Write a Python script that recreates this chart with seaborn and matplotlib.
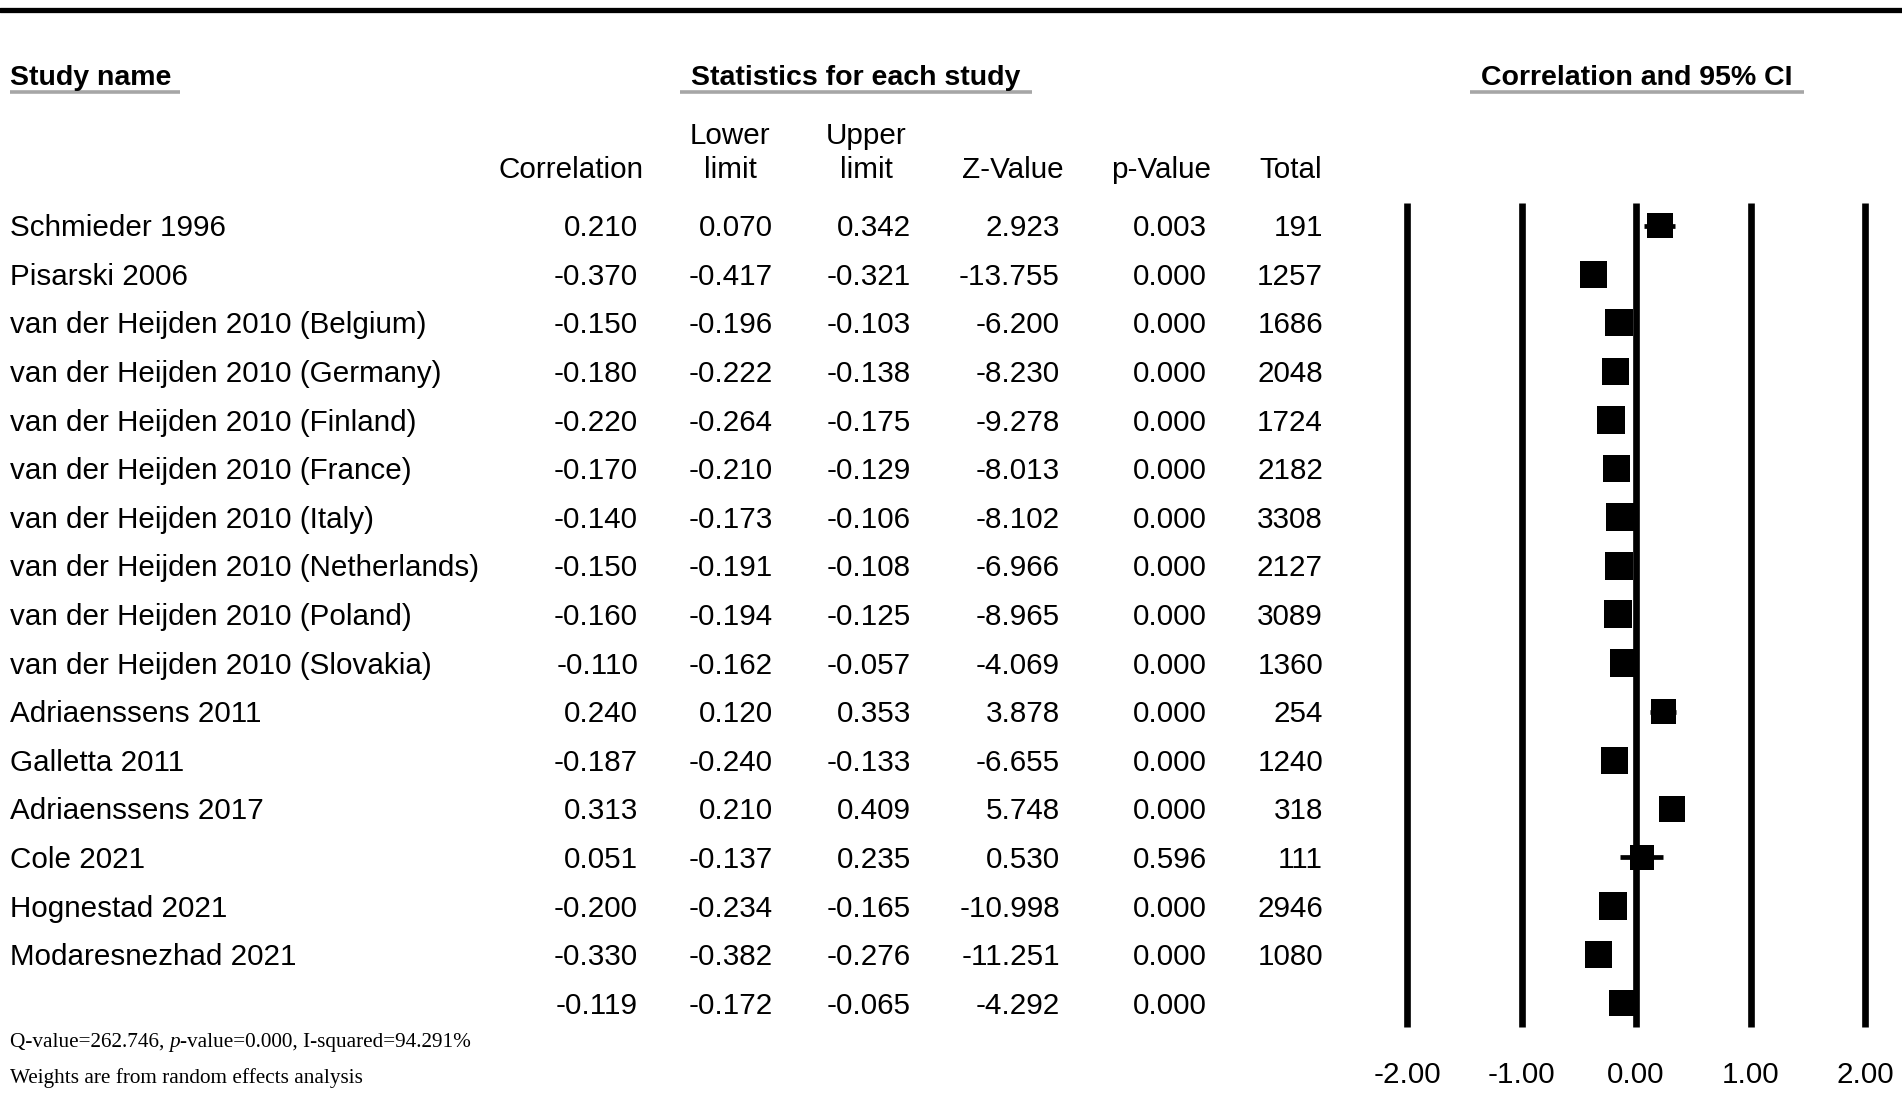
import numpy as np
import pandas as pd
import matplotlib
matplotlib.use("Agg")
import matplotlib.pyplot as plt
import seaborn as sns

# ---------------- data ----------------
studies = [
    "Schmieder 1996",
    "Pisarski 2006",
    "van der Heijden 2010 (Belgium)",
    "van der Heijden 2010 (Germany)",
    "van der Heijden 2010 (Finland)",
    "van der Heijden 2010 (France)",
    "van der Heijden 2010 (Italy)",
    "van der Heijden 2010 (Netherlands)",
    "van der Heijden 2010 (Poland)",
    "van der Heijden 2010 (Slovakia)",
    "Adriaenssens 2011",
    "Galletta 2011",
    "Adriaenssens 2017",
    "Cole 2021",
    "Hognestad 2021",
    "Modaresnezhad 2021",
]
corr = [0.210, -0.370, -0.150, -0.180, -0.220, -0.170, -0.140, -0.150,
        -0.160, -0.110, 0.240, -0.187, 0.313, 0.051, -0.200, -0.330]
lower = [0.070, -0.417, -0.196, -0.222, -0.264, -0.210, -0.173, -0.191,
         -0.194, -0.162, 0.120, -0.240, 0.210, -0.137, -0.234, -0.382]
upper = [0.342, -0.321, -0.103, -0.138, -0.175, -0.129, -0.106, -0.108,
         -0.125, -0.057, 0.353, -0.133, 0.409, 0.235, -0.165, -0.276]
zval = [2.923, -13.755, -6.200, -8.230, -9.278, -8.013, -8.102, -6.966,
        -8.965, -4.069, 3.878, -6.655, 5.748, 0.530, -10.998, -11.251]
pval = [0.003, 0.000, 0.000, 0.000, 0.000, 0.000, 0.000, 0.000,
        0.000, 0.000, 0.000, 0.000, 0.000, 0.596, 0.000, 0.000]
total = [191, 1257, 1686, 2048, 1724, 2182, 3308, 2127,
         3089, 1360, 254, 1240, 318, 111, 2946, 1080]
# relative (random-effects) weights, estimated from the square sizes
weights = [5.6, 6.5, 6.6, 6.7, 6.6, 6.7, 6.9, 6.7,
           6.9, 6.5, 5.6, 6.5, 5.8, 5.2, 6.8, 6.4]

summary_corr = -0.119
summary_lower = -0.172
summary_upper = -0.065
summary_z = -4.292
summary_p = 0.000

axis_ticks = [-2.0, -1.0, 0.0, 1.0, 2.0]
tick_labels = ["-2.00", "-1.00", "0.00", "1.00", "2.00"]

footnote1 = ["Q-value=262.746, ", "p", "-value=0.000, I-squared=94.291%"]
footnote2 = "Weights are from random effects analysis"

df = pd.DataFrame({"study": studies, "corr": corr, "lower": lower,
                   "upper": upper, "weight": weights})
df["row"] = np.arange(len(df))
n_rows = len(df)

# ---------------- figure ----------------
sns.set_theme(style="white")
plt.rcParams["font.family"] = ["Liberation Sans", "DejaVu Sans"]
plt.rcParams["text.color"] = "black"

W, H = 1902, 1099
fig = plt.figure(figsize=(W / 100, H / 100), dpi=100)

# table axes in pixel coordinates
tab = fig.add_axes([0, 0, 1, 1])
tab.set_xlim(0, W)
tab.set_ylim(H, 0)
tab.axis("off")

ROW0, DY = 225.6, 48.6          # row centre px, row pitch px
ZERO_PX, UNIT = 1636.0, 114.5   # forest x mapping

FS = 21.3
FS_B = 20.5
CAP = 10.6

# top rule
tab.axhline(10, color="black", lw=3.8)

# header
hy = 75 + 10
tab.text(10, hy, "Study name", fontsize=FS_B, fontweight="bold", ha="left", va="baseline")
tab.text(856, hy, "Statistics for each study", fontsize=FS_B, fontweight="bold", ha="center", va="baseline")
tab.text(1637, hy, "Correlation and 95% CI", fontsize=FS_B, fontweight="bold", ha="center", va="baseline")
for x0, x1 in [(10, 180), (680, 1032), (1470, 1804)]:
    tab.plot([x0, x1], [92, 92], color="#a6a6a6", lw=2.6, solid_capstyle="butt")

h1 = 133 + CAP
h2 = 167 + CAP
tab.text(643, h2, "Correlation", fontsize=FS, ha="right", va="baseline")
tab.text(730, h1, "Lower", fontsize=FS, ha="center", va="baseline")
tab.text(730, h2, "limit", fontsize=FS, ha="center", va="baseline")
tab.text(866, h1, "Upper", fontsize=FS, ha="center", va="baseline")
tab.text(866, h2, "limit", fontsize=FS, ha="center", va="baseline")
tab.text(1064, h2, "Z-Value", fontsize=FS, ha="right", va="baseline")
tab.text(1211, h2, "p-Value", fontsize=FS, ha="right", va="baseline")
tab.text(1322, h2, "Total", fontsize=FS, ha="right", va="baseline")

col_x = [638, 773, 911, 1060, 1207, 1323]
for i in range(n_rows):
    y = ROW0 + DY * i + CAP
    tab.text(10, y, studies[i], fontsize=FS, ha="left", va="baseline")
    vals = [f"{corr[i]:.3f}", f"{lower[i]:.3f}", f"{upper[i]:.3f}",
            f"{zval[i]:.3f}", f"{pval[i]:.3f}", f"{total[i]}"]
    for x, v in zip(col_x, vals):
        tab.text(x, y, v, fontsize=FS, ha="right", va="baseline")

ys = ROW0 + DY * n_rows + CAP
for x, v in zip(col_x[:5], [summary_corr, summary_lower, summary_upper, summary_z, summary_p]):
    tab.text(x, ys, f"{v:.3f}", fontsize=FS, ha="right", va="baseline")

# footnotes (serif)
serif = ["Liberation Serif", "DejaVu Serif"]
fig.canvas.draw()
renderer = fig.canvas.get_renderer()
x = 10
styles = ["normal", "italic", "normal"]
for part, st in zip(footnote1, styles):
    t = tab.text(x, 1047, part, fontsize=15.3, family=serif, style=st, ha="left", va="baseline")
    bb = t.get_window_extent(renderer=renderer)
    x = x + bb.width
tab.text(10, 1083, footnote2, fontsize=15.3, family=serif, ha="left", va="baseline")

# ---------------- forest axes ----------------
xlo, xhi = -2.1, 2.1
ylo, yhi = -0.6, 16.9
left_px = ZERO_PX + xlo * UNIT
width_px = (xhi - xlo) * UNIT
top_px = ROW0 + ylo * DY
bot_px = ROW0 + yhi * DY
ax = fig.add_axes([left_px / W, 1 - bot_px / H, width_px / W, (bot_px - top_px) / H])
ax.set_xlim(xlo, xhi)
ax.set_ylim(yhi, ylo)
ax.patch.set_alpha(0)

ax.vlines(axis_ticks, -0.465, n_rows + 0.49, color="black", lw=4.8, zorder=1)
ax.hlines(df["row"], df["lower"], df["upper"], color="black", lw=3.4, zorder=2)
ax.hlines([n_rows], [summary_lower], [summary_upper], color="black", lw=3.4, zorder=2)

side_max = 28.0 * 0.72   # points
sns.scatterplot(data=df, x="corr", y="row", size="weight",
                sizes=(0, side_max ** 2), size_norm=(0, max(weights)),
                marker="s", color="black", edgecolor="black", linewidth=0,
                legend=False, ax=ax, zorder=3)
ax.scatter([summary_corr], [n_rows], marker="s", s=(27.0 * 0.72) ** 2,
           color="black", linewidths=0, zorder=3)

ax.set_xticks(axis_ticks, tick_labels)
ax.set_yticks([])
ax.set_xlabel("")
ax.set_ylabel("")
ax.tick_params(axis="x", length=0, pad=10, labelsize=FS, colors="black")
for s in ax.spines.values():
    s.set_visible(False)
ax.grid(False)

fig.savefig("out.png", dpi=100, facecolor="white")
